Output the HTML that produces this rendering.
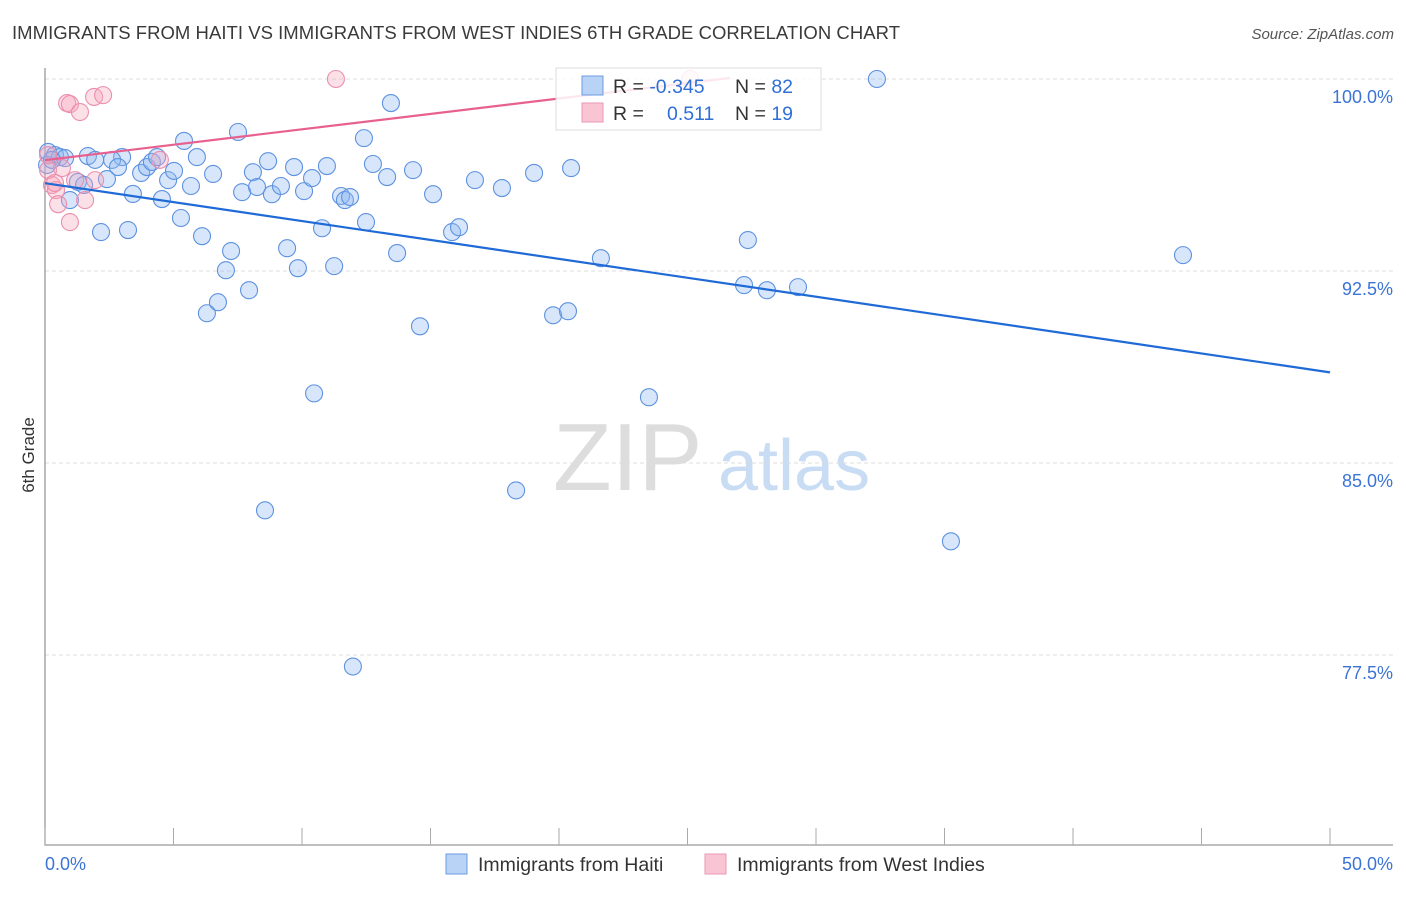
<!DOCTYPE html>
<html><head><meta charset="utf-8"><style>
body{margin:0;background:#fff;font-family:"Liberation Sans",sans-serif;}
svg text{font-family:"Liberation Sans",sans-serif;}
</style></head><body>
<svg id="c" width="1406" height="892" xmlns="http://www.w3.org/2000/svg">
<text x="12" y="39" font-size="18.5" fill="#3a3a3a" textLength="888">IMMIGRANTS FROM HAITI VS IMMIGRANTS FROM WEST INDIES 6TH GRADE CORRELATION CHART</text>
<text x="1394" y="39" font-size="15" fill="#555" font-style="italic" text-anchor="end">Source: ZipAtlas.com</text>
<g><text x="553" y="490" font-size="96" font-family="Liberation Serif,serif" fill="#ddd">ZIP</text><text x="718" y="490" font-size="72" fill="#c8dcf4">atlas</text></g>
<g id="grid"></g><g id="axes"></g><g id="pts"></g><g id="lines"></g>
<text transform="translate(34,455) rotate(-90)" font-size="17" fill="#333" text-anchor="middle">6th Grade</text>
<g>
<rect x="556" y="68" width="265" height="62" fill="rgba(255,255,255,0.85)" stroke="#ddd"/>
<rect x="582" y="76" width="21" height="19" fill="#b9d3f6" stroke="#6b9de0"/>
<rect x="582" y="103" width="21" height="19" fill="#f9c4d4" stroke="#ea98b3"/>
<text x="613" y="93" font-size="19.5" fill="#333">R = <tspan fill="#2f6fd6">-0.345</tspan></text>
<text x="735" y="93" font-size="19.5" fill="#333">N = <tspan fill="#2f6fd6">82</tspan></text>
<text x="613" y="120" font-size="19.5" fill="#333">R = <tspan x="667" fill="#2f6fd6">0.511</tspan></text>
<text x="735" y="120" font-size="19.5" fill="#333">N = <tspan fill="#2f6fd6"> 19</tspan></text>
</g>
<g>
<rect x="446" y="854" width="21" height="20" fill="#b9d3f6" stroke="#6b9de0"/>
<text x="478" y="871" font-size="19.5" fill="#333">Immigrants from Haiti</text>
<rect x="705" y="854" width="21" height="20" fill="#f9c4d4" stroke="#ea98b3"/>
<text x="737" y="871" font-size="19.5" fill="#333">Immigrants from West Indies</text>
</g>
</svg>
<script>
const yTicks=[100,92.5,85,77.5];
const yTickLabels=["100.0%","92.5%","85.0%","77.5%"];
const xTickLabels=["0.0%","50.0%"];
const haitiX=[0.12,0.39,0.58,0.78,0.08,0.27,1.67,1.95,3.0,2.61,2.84,1.28,1.52,0.97,2.41,2.18,3.23,3.42,3.74,3.97,4.16,4.36,4.55,4.79,5.02,5.29,5.41,5.68,5.91,6.11,6.54,6.30,6.73,7.04,7.24,7.51,7.67,7.94,8.09,8.25,8.68,8.83,9.18,9.42,9.69,9.84,10.08,10.39,10.47,10.78,10.97,11.25,11.52,11.67,11.87,12.41,12.49,12.76,13.31,13.46,13.70,14.32,14.59,15.10,15.84,16.11,16.73,17.78,18.33,19.03,19.77,20.35,20.47,21.63,23.50,27.20,27.35,28.09,29.30,32.37,35.25,44.28,8.56,11.98];
const haitiY=[97.15,97.03,96.95,96.91,96.64,96.84,96.99,96.84,96.95,96.84,96.56,95.98,95.86,95.27,96.09,94.02,94.10,95.51,96.33,96.56,96.76,96.95,95.31,96.05,96.41,94.57,97.58,95.82,96.95,93.86,96.29,90.85,91.28,92.53,93.28,97.93,95.58,91.75,96.36,95.78,96.79,95.50,95.82,93.39,96.56,92.61,95.62,96.13,87.72,94.17,96.60,92.69,95.43,95.27,95.39,97.69,94.41,96.68,96.17,99.06,93.20,96.44,90.34,95.50,94.02,94.21,96.05,95.74,83.93,96.33,90.77,90.93,96.52,93.00,87.57,91.95,93.71,91.75,91.87,100.0,81.94,93.12,83.15,77.05];
const wiX=[0.86,0.97,1.36,1.91,2.26,11.32,0.12,0.27,0.43,0.51,0.66,0.97,1.17,1.56,1.95,4.47,0.12,0.39,25.1];
const wiY=[99.06,99.02,98.71,99.30,99.37,100.0,96.44,95.86,95.66,95.11,96.52,94.41,96.05,95.27,96.05,96.84,97.03,95.94,100.0];
const haitiTrendX=[0,50], haitiTrendY=[95.93,88.54];
const wiTrendX=[0,26.65], wiTrendY=[96.83,100.04];
const X=v=>45+v*25.7, Y=v=>79+(100-v)*25.6;
const NS="http://www.w3.org/2000/svg";
function mk(p,t,a){const e=document.createElementNS(NS,t);for(const k in a)e.setAttribute(k,a[k]);document.getElementById(p).appendChild(e);return e;}
yTicks.forEach((t,i)=>{
 const g=mk('grid','line',{x1:45,x2:1393,y1:Y(t),y2:Y(t),stroke:'#ddd','stroke-dasharray':'4,3'});
 
 
 const l=mk('grid','text',{x:1393,y:Y(t)+24,'font-size':18,fill:'#3b74d6','text-anchor':'end'});
 l.textContent=yTickLabels[i];
 
 
});
const ax=mk('axes','path',{d:'M45 68V845H1393',fill:'none',stroke:'#999','stroke-width':1.3});


for(let i=0;i<=10;i++){const t=mk('axes','line',{x1:X(i*5),x2:X(i*5),y1:828,y2:845,stroke:'#aaa'});
 
 }
[[0,45,'start'],[50,1393,'end']].forEach((d,i)=>{const l=mk('axes','text',{x:d[1],y:870,'font-size':18,fill:'#3b74d6','text-anchor':d[2]});l.textContent=xTickLabels[i];
 
 });
haitiX.forEach((v,i)=>{const c=mk('pts','circle',{cx:X(v),cy:Y(haitiY[i]),r:8.5,fill:'rgba(140,182,240,0.35)',stroke:'#5e92e0','stroke-width':1.1});
 
 });
wiX.forEach((v,i)=>{const c=mk('pts','circle',{cx:X(v),cy:Y(wiY[i]),r:8.5,fill:'rgba(246,165,190,0.35)',stroke:'#eb8fae','stroke-width':1.1});
 
 });
const l1=mk('lines','line',{x1:X(haitiTrendX[0]),y1:Y(haitiTrendY[0]),x2:X(haitiTrendX[1]),y2:Y(haitiTrendY[1]),stroke:'#1f6ad6','stroke-width':2.2});


const l2=mk('lines','line',{x1:X(wiTrendX[0]),y1:Y(wiTrendY[0]),x2:X(wiTrendX[1]),y2:Y(wiTrendY[1]),stroke:'#e8608f','stroke-width':2.2});


</script>
</body></html>
